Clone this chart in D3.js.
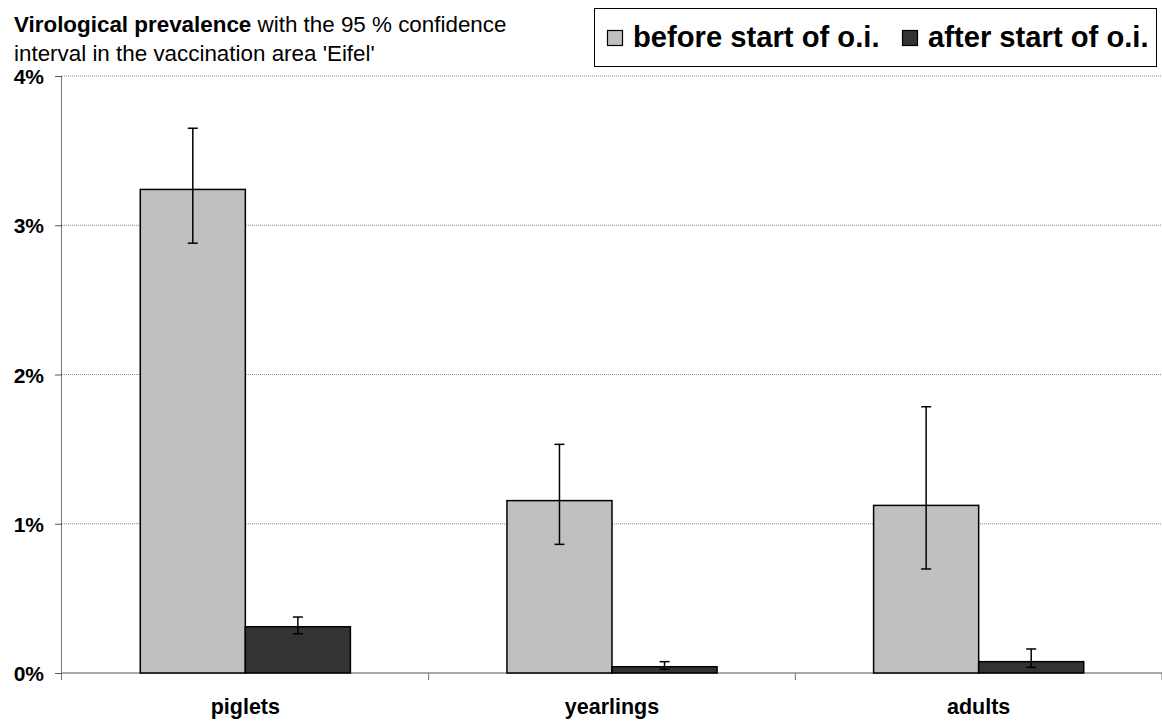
<!DOCTYPE html>
<html><head><meta charset="utf-8">
<script src="https://cdn.jsdelivr.net/npm/d3@7"></script>
<style>body{margin:0;background:#fff}svg{display:block;font-family:"Liberation Sans",Arial,sans-serif}</style>
</head><body><svg id="c" width="1162" height="724"></svg>
<script>
const categories = ["piglets", "yearlings", "adults"];
const seriesNames = ["before start of o.i.", "after start of o.i."];
const beforeValues = [3.24, 1.155, 1.123];
const beforeLow = [2.88, 0.862, 0.697];
const beforeHigh = [3.65, 1.532, 1.784];
const afterValues = [0.31, 0.042, 0.076];
const afterLow = [0.263, 0.025, 0.038];
const afterHigh = [0.375, 0.076, 0.161];
const yTicks = [0, 1, 2, 3, 4];
const yTickLabels = ["0%", "1%", "2%", "3%", "4%"];

const colors = ["#c0c0c0", "#333333"];
const svg = d3.select("#c");
const pLeft = 62, pRight = 1162, pTop = 76, pBottom = 673;

const x0 = d3.scaleBand().domain(categories).range([pLeft, pRight]).padding(0);
const x1 = d3.scaleBand().domain(seriesNames).range([0, x0.bandwidth()]).paddingInner(0).paddingOuter(0.745);
const y = d3.scaleLinear().domain([0, 4]).range([pBottom, pTop]);

// gridlines
svg.append("g").selectAll("line").data(yTicks.filter(d => d > 0)).join("line")
  .attr("x1", pLeft).attr("x2", pRight)
  .attr("y1", d => y(d)).attr("y2", d => y(d))
  .attr("stroke", "#8a8a8a").attr("stroke-width", 1).attr("stroke-dasharray", "1,1");

// y axis
const yAxis = d3.axisLeft(y).tickValues(yTicks).tickSize(7).tickFormat((d, i) => yTickLabels[i]);
const gy = svg.append("g").attr("transform", `translate(${pLeft},0)`).call(yAxis);
gy.select(".domain").attr("stroke", "#777").attr("d", `M-0.5,${pTop}V${pBottom + 7}`);
gy.selectAll(".tick line").attr("stroke", "#555");
gy.selectAll(".tick text").attr("x", -18).attr("dy", "0.36em")
  .attr("font-size", 21).attr("font-weight", "bold").attr("fill", "#000")
  .attr("font-family", '"Liberation Sans",Arial,sans-serif');

// x baseline
svg.append("line").attr("x1", pLeft).attr("x2", pRight).attr("y1", pBottom).attr("y2", pBottom)
  .attr("stroke", "#555").attr("stroke-width", 1.2);
// category separator ticks
svg.append("g").selectAll("line").data(categories).join("line")
  .attr("x1", d => x0(d) + x0.step()).attr("x2", d => x0(d) + x0.step())
  .attr("y1", pBottom).attr("y2", pBottom + 7).attr("stroke", "#777");

// bars
const data = categories.map((c, i) => ({
  cat: c,
  vals: [
    {s: seriesNames[0], v: beforeValues[i], lo: beforeLow[i], hi: beforeHigh[i], k: 0},
    {s: seriesNames[1], v: afterValues[i], lo: afterLow[i], hi: afterHigh[i], k: 1}
  ]
}));
const groups = svg.append("g").selectAll("g").data(data).join("g")
  .attr("transform", d => `translate(${x0(d.cat)},0)`);
groups.selectAll("rect").data(d => d.vals).join("rect")
  .attr("x", d => x1(d.s)).attr("width", x1.bandwidth())
  .attr("y", d => y(d.v)).attr("height", d => y(0) - y(d.v))
  .attr("fill", d => colors[d.k]).attr("stroke", "#000").attr("stroke-width", 1.5);
// error bars
const eb = groups.selectAll("g.eb").data(d => d.vals).join("g").attr("class", "eb");
eb.append("line")
  .attr("x1", d => x1(d.s) + x1.bandwidth() / 2).attr("x2", d => x1(d.s) + x1.bandwidth() / 2)
  .attr("y1", d => y(d.hi)).attr("y2", d => y(d.lo)).attr("stroke", "#000").attr("stroke-width", 1.5);
eb.selectAll("line.cap").data(d => [d.hi, d.lo].map(v => ({v, cx: x1(d.s) + x1.bandwidth() / 2}))).join("line")
  .attr("class", "cap")
  .attr("x1", d => d.cx - 5).attr("x2", d => d.cx + 5)
  .attr("y1", d => y(d.v)).attr("y2", d => y(d.v)).attr("stroke", "#000").attr("stroke-width", 1.5);

// category labels
svg.append("g").selectAll("text").data(categories).join("text")
  .attr("x", d => x0(d) + x0.bandwidth() / 2).attr("y", 714)
  .attr("text-anchor", "middle").attr("font-size", 21.5).attr("font-weight", "bold").text(d => d);

// title
const t = svg.append("text").attr("x", 14).attr("y", 31.5).attr("font-size", 22.4);
t.append("tspan").attr("font-weight", "bold").text("Virological prevalence");
t.append("tspan").text(" with the 95 % confidence");
svg.append("text").attr("x", 14).attr("y", 61).attr("font-size", 22.4).text("interval in the vaccination area 'Eifel'");

// legend
const lg = svg.append("g");
lg.append("rect").attr("x", 594.5).attr("y", 8.5).attr("width", 562).attr("height", 58)
  .attr("fill", "#fff").attr("stroke", "#000").attr("stroke-width", 1);
const legendX = [607, 902];
seriesNames.forEach((s, i) => {
  lg.append("rect").attr("x", legendX[i] + 0.5).attr("y", 30.5).attr("width", 15).attr("height", 15)
    .attr("fill", colors[i]).attr("stroke", "#000").attr("stroke-width", 1.2);
  lg.append("text").attr("x", legendX[i] + 26).attr("y", 46.5).attr("font-size", 29.2)
    .attr("font-weight", "bold").text(s);
});
</script></body></html>
